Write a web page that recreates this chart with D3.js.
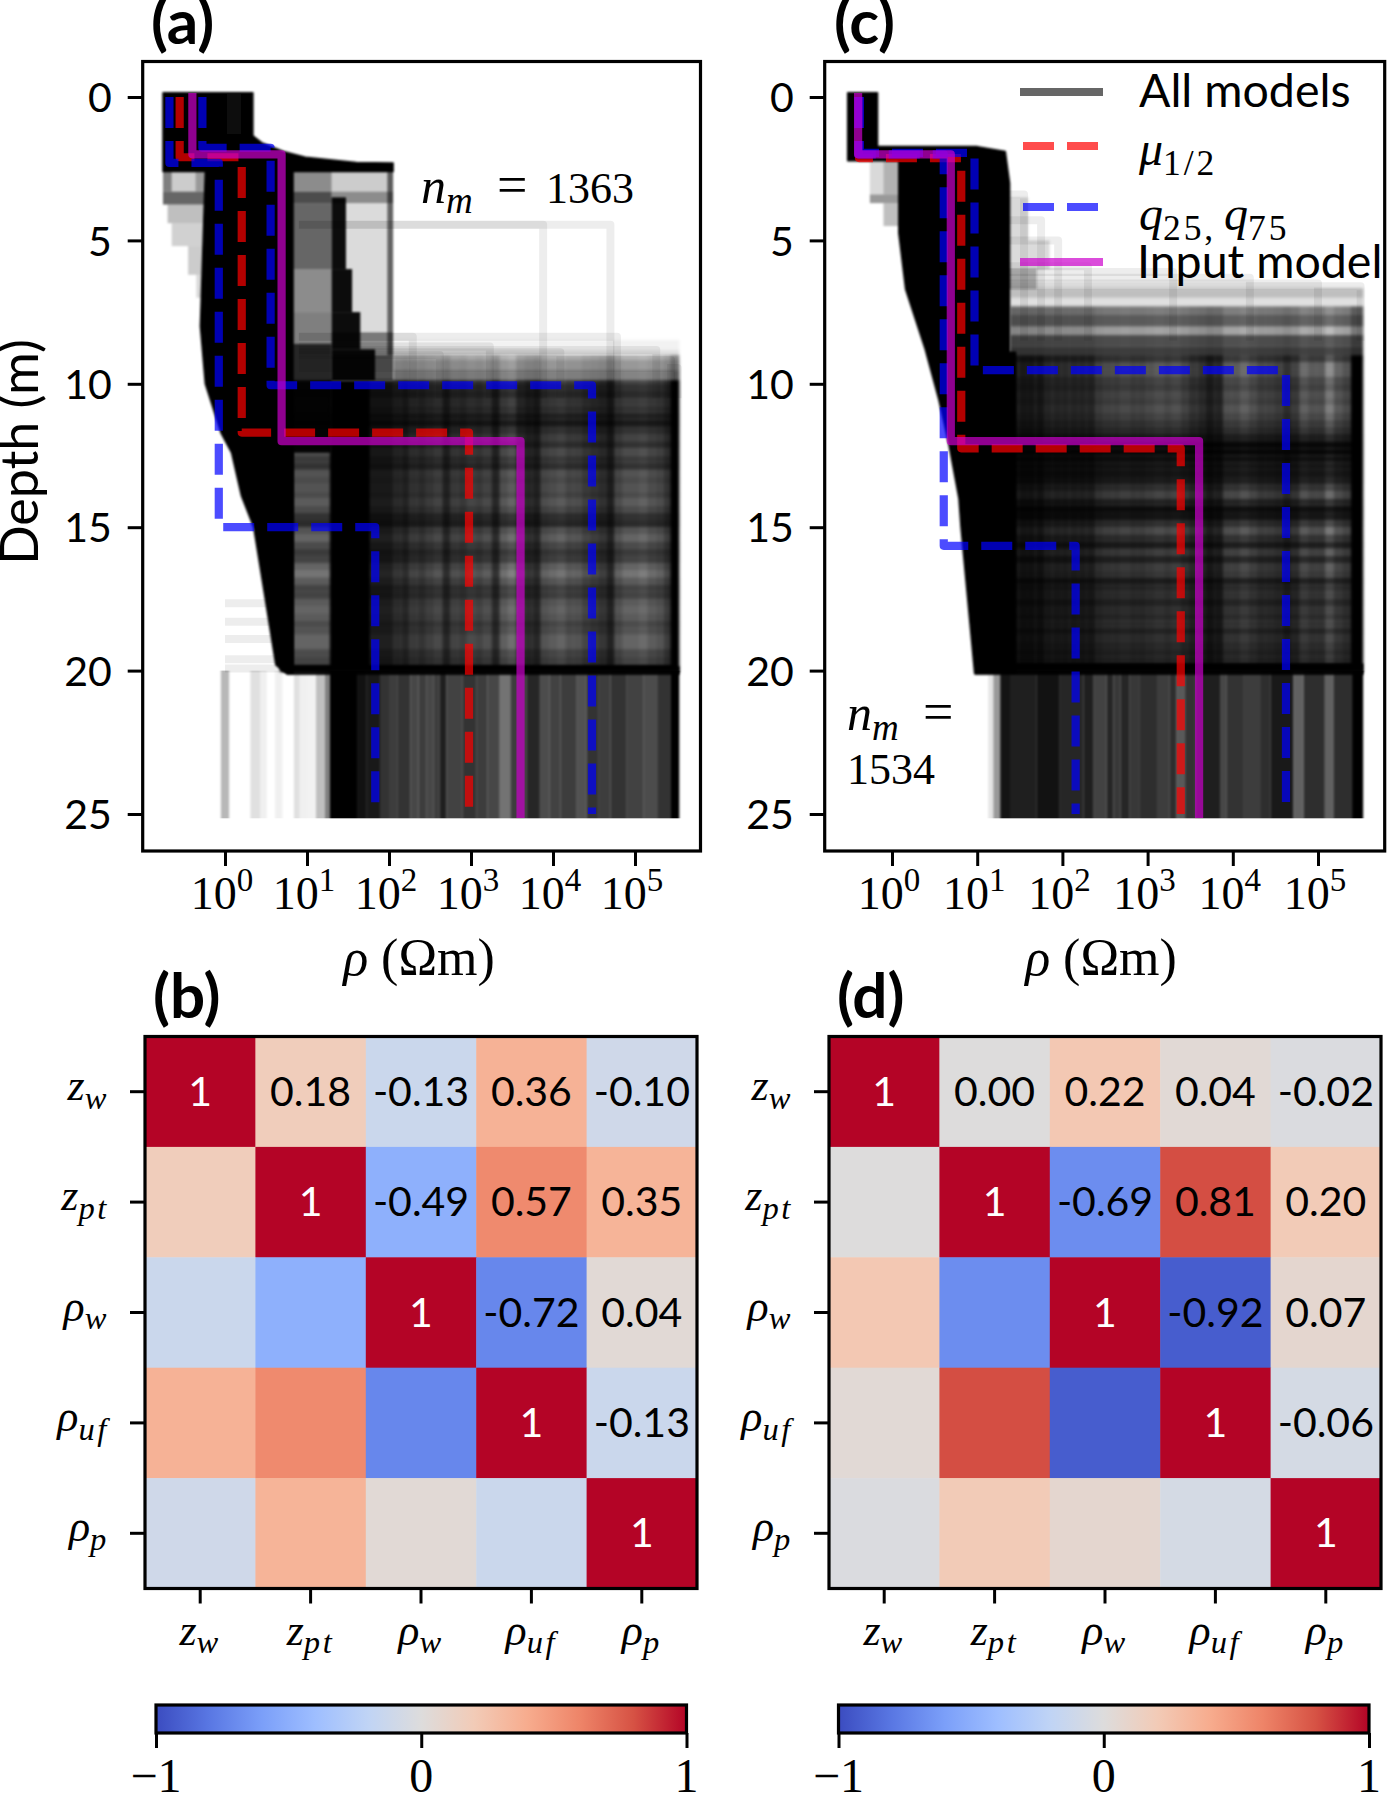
<!DOCTYPE html>
<html>
<head>
<meta charset="utf-8">
<script src="https://cdn.jsdelivr.net/npm/d3@7"></script>
<style>
  html, body { margin: 0; background: #fff; }
  svg { display: block; }
  text { fill: #000; }
  .sans { font-family: Lato, "Open Sans", sans-serif; }
  .serif { font-family: "Liberation Serif", serif; }
  .frame { fill: none; stroke: #000; stroke-width: 3.2; }
</style>
</head>
<body>
<div id="wrapper"></div>
<script>
// 1. data
const depthTicks = [0, 5, 10, 15, 20, 25]
const rhoExponents = [0, 1, 2, 3, 4, 5]
const paramNames = [["z", "w"], ["z", "pt"], ["ρ", "w"], ["ρ", "uf"], ["ρ", "p"]]

// step profiles, rho in ohm m and the depth of each step
const aMedianRho = [0.28, 1.6, 945], aMedianZ = [2.1, 11.7]
const aQ25Rho = [0.21, 0.84, 68], aQ25Z = [2.3, 15]
const aQ75Rho = [0.53, 3.6, 29900], aQ75Z = [1.77, 10.05]
const cMedianRho = [0.41, 6.5, 2450], cMedianZ = [2.13, 12.25]
const cQ25Rho = [0.4, 4.05, 143], cQ25Z = [2.0, 15.65]
const cQ75Rho = [0.42, 9.3, 42100], cQ75Z = [1.95, 9.52]
const inputRho = [0.4, 4.9, 4020], inputZ = [2, 12]

// outline of the solid black part of the ensemble, log10(rho) and depth
const aBodyLog = [-0.756, 0.34, 0.34, 0.45, 0.71, 0.98, 1.6, 2.05, 2.05, 0.83, 0.83, 0.75, 0.62, 0.48, 0.35, 0.2, 0.08, -0.05, -0.24, -0.3, -0.24, -0.756]
const aBodyZ = [-0.15, -0.15, 1.35, 1.6, 1.9, 2.1, 2.28, 2.3, 2.6, 2.6, 20.1, 20.1, 19.8, 17.3, 15, 13.9, 12.4, 11.7, 10, 8, 2.6, 2.6]
const cBodyLog = [-0.52, -0.17, -0.17, 1.0, 1.33, 1.38, 1.38, 1.45, 1.45, 0.97, 0.81, 0.786, 0.665, 0.55, 0.39, 0.16, 0.08, 0.08, -0.52]
const cBodyZ = [-0.15, -0.15, 1.73, 1.73, 1.9, 3, 8.9, 8.9, 20.1, 20.1, 15, 14, 12.07, 10.56, 8.8, 6.7, 4.75, 2.22, 2.22]

// plaid texture: column edges in log10(rho), row edges in depth, darkness of each band
const aColEdges = [0.67, 0.83, 1.28, 1.77, 2.05, 2.15, 2.25, 2.35, 2.45, 2.55, 2.65, 2.75, 2.85, 2.95, 3.05, 3.15, 3.25, 3.35, 3.45, 3.55, 3.65, 3.75, 3.85, 3.95, 4.05, 4.15, 4.25, 4.35, 4.45, 4.55, 4.65, 4.75, 4.85, 4.95, 5.05, 5.15, 5.25, 5.35, 5.43, 5.54]
const aColDark = [1, 0.35, 1, 0.8, 0.7, 0.75, 0.62, 0.66, 0.58, 0.52, 0.75, 0.56, 0.6, 0.5, 0.55, 0.48, 0.72, 0.38, 0.28, 0.6, 0.7, 0.75, 0.45, 0.4, 0.35, 0.45, 0.45, 0.55, 0.6, 0.65, 0.78, 0.45, 0.35, 0.35, 0.3, 0.4, 0.45, 0.6, 1]
const aRowEdges = [8.47, 8.82, 9.17, 9.52, 9.87, 10, 10.25, 10.5, 10.75, 11, 11.25, 11.5, 11.75, 12, 12.25, 12.5, 12.75, 13, 13.25, 13.5, 13.75, 14, 14.25, 14.5, 14.75, 15, 15.25, 15.5, 15.75, 16, 16.25, 16.5, 16.75, 17, 17.25, 17.5, 17.75, 18, 18.25, 18.5, 18.75, 19, 19.25, 19.5, 19.8, 20.05]
const aRowDark = [0.05, 0.12, 0.25, 0.4, 0.6, 0.7, 0.75, 0.65, 0.7, 0.8, 0.85, 0.7, 0.6, 0.7, 0.55, 0.65, 0.7, 0.5, 0.55, 0.5, 0.55, 0.45, 0.55, 0.7, 0.75, 0.5, 0.4, 0.55, 0.65, 0.6, 0.4, 0.3, 0.45, 0.6, 0.6, 0.45, 0.4, 0.45, 0.55, 0.5, 0.4, 0.4, 0.55, 0.6, 1]
const cColEdges = [1.385, 1.485, 1.585, 1.685, 1.785, 1.885, 1.985, 2.085, 2.185, 2.285, 2.385, 2.485, 2.585, 2.685, 2.785, 2.885, 2.985, 3.085, 3.185, 3.285, 3.385, 3.485, 3.585, 3.685, 3.785, 3.885, 3.985, 4.085, 4.185, 4.285, 4.385, 4.485, 4.585, 4.685, 4.785, 4.885, 4.985, 5.085, 5.185, 5.285, 5.385, 5.53]
const cColDark = [0.85, 0.85, 0.85, 0.85, 0.75, 0.75, 0.75, 0.75, 0.75, 0.75, 0.6, 0.55, 0.55, 0.5, 0.55, 0.55, 0.5, 0.45, 0.5, 0.45, 0.55, 0.65, 0.7, 0.8, 0.75, 0.45, 0.45, 0.35, 0.45, 0.55, 0.55, 0.6, 0.7, 0.6, 0.35, 0.45, 0.45, 0.15, 0.4, 0.5, 1]
const cRowEdges = [6.67, 7, 7.3, 7.6, 8, 8.3, 8.7, 9, 9.25, 9.5, 9.75, 10, 10.25, 10.5, 10.75, 11, 11.25, 11.5, 11.75, 12, 12.25, 12.5, 12.75, 13, 13.25, 13.5, 13.75, 14, 14.25, 14.5, 14.75, 15, 15.25, 15.5, 15.75, 16, 16.25, 16.5, 16.75, 17, 17.25, 17.5, 17.75, 18, 18.25, 18.5, 18.75, 19, 19.25, 19.5, 19.75, 20.05]
const cRowDark = [0.25, 0.12, 0.4, 0.55, 0.22, 0.62, 0.7, 0.6, 0.35, 0.35, 0.5, 0.55, 0.45, 0.5, 0.42, 0.5, 0.6, 0.68, 0.8, 0.95, 0.95, 0.9, 0.85, 0.85, 0.8, 0.65, 0.5, 0.75, 0.9, 0.85, 0.65, 0.45, 0.65, 0.8, 0.55, 0.75, 0.55, 0.6, 0.8, 0.7, 0.65, 0.75, 0.65, 0.7, 0.65, 0.75, 0.65, 0.7, 0.75, 0.75, 1]

// below 20 m only the last layer is left, so the models show as vertical stripes
const aStripeEdges = [-0.05, 0.05, 0.31, 0.43, 0.51, 0.61, 0.70, 0.84, 0.91, 1.0, 1.11, 1.22, 1.28, 1.61, 1.73, 1.89, 2.0, 2.1, 2.26, 2.36, 2.46, 2.54, 2.62, 2.70, 2.90, 3.07, 3.2, 3.35, 3.48, 3.68, 3.84, 3.96, 4.09, 4.29, 4.41, 4.55, 4.70, 4.9, 5.10, 5.27, 5.43, 5.54]
const aStripeDark = [0.28, 0, 0.12, 0.06, 0, 0.06, 0, 0.12, 0.06, 0.05, 0.25, 0.5, 1, 0.93, 0.9, 0.8, 0.76, 0.8, 0.72, 0.76, 0.72, 0.76, 0.88, 0.74, 0.8, 0.76, 0.72, 0.55, 0.76, 0.85, 0.7, 0.74, 0.76, 0.68, 0.8, 0.76, 0.8, 0.74, 0.7, 0.8, 1]
const cStripeEdges = [1.13, 1.19, 1.27, 1.385, 1.70, 1.97, 2.245, 2.36, 2.52, 2.60, 2.68, 2.79, 2.91, 3.11, 3.26, 3.34, 3.44, 3.56, 3.85, 3.93, 4.12, 4.32, 4.44, 4.71, 4.83, 5.08, 5.18, 5.40, 5.53]
const cStripeDark = [0.1, 0.4, 0.92, 0.88, 0.93, 0.85, 0.88, 0.74, 0.85, 0.78, 0.85, 0.78, 0.82, 0.76, 0.82, 0.65, 0.8, 0.88, 0.72, 0.8, 0.76, 0.82, 0.9, 0.62, 0.82, 0.62, 0.82, 1]

// grey patches next to the black body: log0, log1, z0, z1, darkness (negative lightens)
const aPatches = [
  [0.02, 0.2, -0.1, 1.3, -0.06],
  [-0.756, -0.65, 2.6, 3.3, 0.5], [-0.65, -0.36, 2.6, 3.3, 0.2], [-0.36, -0.24, 2.6, 3.3, 0.4],
  [-0.756, -0.24, 3.3, 3.75, 0.6], [-0.7, -0.24, 3.75, 4.4, 0.25], [-0.65, -0.24, 4.4, 5.2, 0.18],
  [-0.45, -0.24, 5.2, 6.2, 0.2], [-0.35, -0.24, 6.2, 7, 0.15],
  [0.83, 1.3, 2.6, 3.3, 0.45], [0.83, 1.3, 3.3, 3.7, 0.7], [0.83, 1.3, 3.7, 6, 0.6],
  [0.83, 1.3, 6, 7.5, 0.45], [0.83, 1.3, 7.5, 8.6, 0.5], [0.83, 1.3, 8.6, 9.9, 0.85], [0.83, 1.3, 9.9, 12.4, 0.95],
  [1.3, 2.05, 2.6, 3.3, 0.2], [1.3, 2.05, 3.3, 3.7, 0.45], [1.3, 2.05, 3.7, 8.2, 0.14],
  [1.3, 2.05, 8.2, 9, 0.45], [1.3, 2.05, 9, 9.9, 0.7], [1.98, 2.05, 2.6, 9, 0.55],
  [1.3, 1.475, 3.5, 6, 0.95], [1.3, 1.55, 6, 7.5, 0.95], [1.3, 1.65, 7.5, 8.8, 0.95], [1.3, 1.83, 8.8, 9.9, 0.95],
  [0.75, 5.54, 19.85, 20.15, 0.92]
]
const cPatches = [
  [-0.26, -0.1, 2.22, 3.4, 0.15], [-0.1, 0.08, 2.22, 3.4, 0.3], [-0.26, 0.08, 3.4, 3.7, 0.4],
  [-0.1, 0.08, 3.7, 4.5, 0.25], [1.38, 1.6, 3.5, 5, 0.15], [1.38, 1.85, 5, 6, 0.14],
  [1.38, 1.7, 6, 6.7, 0.3], [0.97, 5.53, 19.75, 20.15, 0.92]
]

// faint single models: depth of the step and the rho they jump to (log10), depth where they vanish
const aOutlierZ = [4.45, 4.45, 8.36, 8.36, 8.7, 8.82, 8.9, 9.0, 9.17, 9.45]
const aOutlierLog = [3.88, 4.7, 2.29, 4.78, 3.23, 5.26, 4.09, 2.62, 5.44, 5.52]
const aLowZ = [17.65, 18.3, 18.9, 19.6, 19.93]
const cOutlierZ = [3.4, 4.3, 5.0, 5.9, 6.1, 6.3, 6.5, 6.6]
const cOutlierLog = [1.55, 1.75, 1.95, 2.3, 3.3, 4.2, 5.0, 5.5]

const corrB = [
  [1, 0.18, -0.13, 0.36, -0.10],
  [0.18, 1, -0.49, 0.57, 0.35],
  [-0.13, -0.49, 1, -0.72, 0.04],
  [0.36, 0.57, -0.72, 1, -0.13],
  [-0.10, 0.35, 0.04, -0.13, 1]
]
const corrD = [
  [1, 0.00, 0.22, 0.04, -0.02],
  [0.00, 1, -0.69, 0.81, 0.20],
  [0.22, -0.69, 1, -0.92, 0.07],
  [0.04, 0.81, -0.92, 1, -0.06],
  [-0.02, 0.20, 0.07, -0.06, 1]
]
const coolwarm = ["#3b4cc0", "#5977e3", "#7b9ff9", "#9ebeff", "#c0d4f5", "#dddcdc", "#f2cbb7", "#f7ac8e", "#ee8468", "#d65244", "#b40426"]

// 2. canvas
const width = 1387, height = 1794
const svg = d3.select("#wrapper").append("svg")
  .attr("width", width).attr("height", height)
const defs = svg.append("defs")
const blur = (id, sx, sy) => defs.append("filter").attr("id", id)
  .attr("x", "-5%").attr("y", "-5%").attr("width", "110%").attr("height", "110%")
  .append("feGaussianBlur").attr("stdDeviation", `${sx} ${sy}`)
blur("soft", 1.5, 1.5)
blur("softx", 1.0, 0)
blur("edge", 1.0, 1.0)

const colorT = d3.scaleLinear().domain(d3.range(11).map(i => -1 + i * 0.2)).range(coolwarm)
  .interpolate(d3.interpolateRgb)

function stepPoints(rhos, zs) {
  const pts = [[rhos[0], 0]]
  zs.forEach((z, i) => { pts.push([rhos[i], z]); pts.push([rhos[i + 1], z]) })
  pts.push([rhos[rhos.length - 1], 25])
  return pts
}

function mathText(parent, x, y, base, sub, size, anchor, upright) {
  const t = parent.append("text").attr("class", "serif")
    .attr("x", x).attr("y", y).attr("text-anchor", anchor)
    .attr("font-size", size)
  t.append("tspan").attr("font-style", "italic").text(base)
  t.append("tspan").attr("font-style", upright ? "normal" : "italic").attr("font-size", size * 0.74)
    .attr("letter-spacing", size * 0.06)
    .attr("dy", size * 0.2).text(sub)
  return t
}

// 3. ensemble panels
function drawProfile(p) {
  const x = d3.scaleLog().domain([1, 1e5]).range(p.rhoRange)
  const y = d3.scaleLinear().domain([0, 25]).range([97, 814])
  const xl = v => x(Math.pow(10, v))
  const g = svg.append("g")

  const rect = (sel, l0, l1, z0, z1, dark) => sel.append("rect")
    .attr("x", xl(l0)).attr("width", xl(l1) - xl(l0))
    .attr("y", y(z0)).attr("height", y(z1) - y(z0))
    .attr("fill", dark < 0 ? "#fff" : "#000")
    .attr("fill-opacity", Math.abs(dark))

  // faint single models first
  const faint = g.append("g").attr("fill", "none").attr("stroke", "#000")
    .attr("stroke-opacity", 0.07).attr("stroke-width", 8).attr("stroke-linejoin", "round")
  p.outlierZ.forEach((z, i) => {
    faint.append("path").attr("d", d3.line()([
      [xl(p.outlierFrom), y(z)], [xl(p.outlierLog[i]), y(z)], [xl(p.outlierLog[i]), y(p.outlierEnd)]
    ]))
  })
  p.lowZ.forEach(z => {
    faint.append("path").attr("d", d3.line()([[xl(0), y(z)], [xl(0.8), y(z)]]))
  })

  // plaid = row bands multiplied with column bands
  const plaid = g.append("g").attr("filter", "url(#soft)")
  const rowTo = p.colEdges[p.colEdges.length - 1]
  p.rowDark.forEach((d, i) => {
    const from = p.rowEdges[i] >= p.colTop ? p.colEdges[0] : p.rowFrom
    rect(plaid, from, rowTo, p.rowEdges[i], p.rowEdges[i + 1], d)
  })
  p.colDark.forEach((d, i) => {
    rect(plaid, p.colEdges[i], p.colEdges[i + 1], p.colTop, 20.05, d)
    // the columns fade out towards the top of the plaid
    if (p.colEdges[i] >= p.rowFrom) rect(plaid, p.colEdges[i], p.colEdges[i + 1], p.fadeTop, p.colTop, d * 0.4)
  })

  // stripes under 20 m
  const stripes = g.append("g").attr("filter", "url(#softx)")
  p.stripeDark.forEach((d, i) => rect(stripes, p.stripeEdges[i], p.stripeEdges[i + 1], 20.0, 25.15, d))

  const patches = g.append("g").attr("filter", "url(#edge)")
  patches.append("path")
    .attr("d", d3.line()(p.bodyLog.map((l, i) => [xl(l), y(p.bodyZ[i])])) + "Z")
    .attr("fill", "#000").attr("stroke", "#000").attr("stroke-width", 1.5).attr("stroke-linejoin", "round")
  p.patches.forEach(d => rect(patches, d[0], d[1], d[2], d[3], d[4]))

  // summary lines
  const profileLine = d3.line().x(d => x(d[0])).y(d => y(d[1]))
  const line = (rhos, zs, color, dashed) => g.append("path")
    .attr("d", profileLine(stepPoints(rhos, zs)))
    .attr("fill", "none").attr("stroke", color).attr("stroke-opacity", 0.7)
    .attr("stroke-width", 8.2).attr("stroke-linejoin", "round")
    .attr("stroke-linecap", dashed ? "butt" : "square")
    .attr("stroke-dasharray", dashed ? "31 13" : null)
  line(p.medRho, p.medZ, "#f00", true)
  line(p.q25Rho, p.q25Z, "#00f", true)
  line(p.q75Rho, p.q75Z, "#00f", true)
  line(inputRho, inputZ, "#cc00cc", false)

  // axes
  const axes = g.append("g")
  axes.append("rect").attr("class", "frame")
    .attr("x", p.left).attr("y", 61.5)
    .attr("width", p.right - p.left).attr("height", 851 - 61.5)
  const yAxis = axes.append("g").attr("transform", `translate(${p.left},0)`)
    .call(d3.axisLeft(y).tickValues(depthTicks).tickSize(15).tickPadding(16))
  yAxis.select(".domain").remove()
  yAxis.selectAll("line").attr("stroke-width", 3)
  yAxis.selectAll("text").attr("class", "sans").attr("font-size", 41).attr("dy", "0.36em").style("fill", "#000")
  const xAxis = axes.append("g").attr("transform", "translate(0,851)")
    .call(d3.axisBottom(d3.scaleLinear().domain([0, 5]).range(p.rhoRange))
      .tickValues(rhoExponents).tickSize(15).tickFormat(""))
  xAxis.select(".domain").remove()
  xAxis.selectAll("line").attr("stroke-width", 3)
  rhoExponents.forEach(e => {
    const t = axes.append("text").attr("class", "serif").attr("font-size", 46)
      .attr("x", xl(e) - 3).attr("y", 909).attr("text-anchor", "middle")
    t.append("tspan").text("10")
    t.append("tspan").attr("font-size", 33).attr("dy", -18).text(e)
  })
  const lab = axes.append("text").attr("x", p.xLabel).attr("y", 975)
    .attr("text-anchor", "middle").attr("font-size", 52)
  lab.append("tspan").attr("class", "serif").attr("font-style", "italic").text("ρ ")
  lab.append("tspan").attr("class", "serif").text("(Ωm)")

  axes.append("text").attr("class", "sans").attr("x", p.titleX).attr("y", 44)
    .attr("font-size", 62).attr("font-weight", 700).text(p.title)
}

drawProfile({
  title: "(a)", titleX: 151, xLabel: 419, left: 142.7, right: 700.5, rhoRange: [225, 635],
  medRho: aMedianRho, medZ: aMedianZ, q25Rho: aQ25Rho, q25Z: aQ25Z, q75Rho: aQ75Rho, q75Z: aQ75Z,
  bodyLog: aBodyLog, bodyZ: aBodyZ, colEdges: aColEdges, colDark: aColDark, rowEdges: aRowEdges, rowDark: aRowDark,
  rowFrom: 2.05, colTop: 9.87, fadeTop: 9.0, stripeEdges: aStripeEdges, stripeDark: aStripeDark, patches: aPatches,
  outlierZ: aOutlierZ, outlierLog: aOutlierLog, outlierFrom: 0.9, outlierEnd: 10.5, lowZ: aLowZ
})
drawProfile({
  title: "(c)", titleX: 834, xLabel: 1101, left: 824.7, right: 1384.7, rhoRange: [892, 1318],
  medRho: cMedianRho, medZ: cMedianZ, q25Rho: cQ25Rho, q25Z: cQ25Z, q75Rho: cQ75Rho, q75Z: cQ75Z,
  bodyLog: cBodyLog, bodyZ: cBodyZ, colEdges: cColEdges, colDark: cColDark, rowEdges: cRowEdges, rowDark: cRowDark,
  rowFrom: 1.385, colTop: 9.0, fadeTop: 7.3, stripeEdges: cStripeEdges, stripeDark: cStripeDark, patches: cPatches,
  outlierZ: cOutlierZ, outlierLog: cOutlierLog, outlierFrom: 1.3, outlierEnd: 8.5, lowZ: []
})

svg.append("text").attr("class", "sans").attr("font-size", 52)
  .attr("transform", "translate(38,452) rotate(-90)").attr("text-anchor", "middle").text("Depth (m)")

// n_m labels
const serifAt = (parent, xx, yy, size, txt) => parent.append("text").attr("class", "serif")
  .attr("font-size", size).attr("x", xx).attr("y", yy).text(txt)
mathText(svg, 421, 203, "n", "m", 50, "start")
serifAt(svg, 497, 203, 54, "=")
serifAt(svg, 546, 203, 44, "1363")
mathText(svg, 847, 730, "n", "m", 50, "start")
serifAt(svg, 923, 730, 54, "=")
serifAt(svg, 847, 784, 44, "1534")

// legend in panel c
const legend = svg.append("g")
const legendLine = (yy, color, dashed, op) => legend.append("line")
  .attr("x1", 1020).attr("x2", 1103).attr("y1", yy).attr("y2", yy)
  .attr("stroke", color).attr("stroke-opacity", op).attr("stroke-width", 8.2)
  .attr("stroke-dasharray", dashed ? "31 13" : null)
legendLine(92, "#000", false, 0.6)
legendLine(146, "#f00", true, 0.7).attr("x1", 1023)
legendLine(207, "#00f", true, 0.7).attr("x1", 1023)
legendLine(262, "#cc00cc", false, 0.7)
legend.append("text").attr("class", "sans").attr("font-size", 46.5).attr("x", 1139).attr("y", 107).text("All models")
mathText(legend, 1139, 165, "μ", "1/2", 48, "start", true)
mathText(legend, 1139, 230, "q", "25,", 48, "start", true)
mathText(legend, 1224, 230, "q", "75", 48, "start", true)
legend.append("text").attr("class", "sans").attr("font-size", 46.5).attr("x", 1137).attr("y", 278).text("Input model")

// 4. correlation panels
function drawHeatmap(p) {
  const size = 552, top = 1036.5
  const keys = d3.range(paramNames.length)
  const x = d3.scaleBand().domain(keys).range([p.left, p.left + size])
  const y = d3.scaleBand().domain(keys).range([top, top + size])
  const g = svg.append("g")

  p.corr.forEach((row, i) => row.forEach((v, j) => {
    g.append("rect").attr("x", x(j)).attr("y", y(i))
      .attr("width", x.bandwidth() + 0.5).attr("height", y.bandwidth() + 0.5)
      .attr("fill", colorT(v))
    if (j >= i) {
      g.append("text").attr("class", "sans").attr("font-size", 41)
        .attr("x", x(j) + x.bandwidth() / 2).attr("y", y(i) + y.bandwidth() / 2 + 14)
        .attr("text-anchor", "middle").style("fill", i === j ? "#fff" : "#000")
        .text(i === j ? "1" : v.toFixed(2))
    }
  }))
  g.append("rect").attr("class", "frame").attr("x", p.left).attr("y", top)
    .attr("width", size).attr("height", size)

  const yAxis = g.append("g").attr("transform", `translate(${p.left},0)`)
    .call(d3.axisLeft(y).tickSize(15).tickFormat(""))
  const xAxis = g.append("g").attr("transform", `translate(0,${top + size})`)
    .call(d3.axisBottom(x).tickSize(15).tickFormat(""))
  yAxis.select(".domain").remove(); xAxis.select(".domain").remove()
  yAxis.selectAll("line").attr("stroke-width", 3)
  xAxis.selectAll("line").attr("stroke-width", 3)

  paramNames.forEach((n, i) => {
    mathText(g, p.left - 36, y(i) + y.bandwidth() / 2 + 8, n[0], n[1], 44, "end")
    mathText(g, x(i) + x.bandwidth() / 2, top + size + 56, n[0], n[1], 44, "middle")
  })

  g.append("text").attr("class", "sans").attr("x", p.titleX).attr("y", 1018)
    .attr("font-size", 62).attr("font-weight", 700).text(p.title)

  // colour bar
  const cb = d3.scaleLinear().domain([-1, 1]).range([p.barLeft, p.barLeft + 530.5])
  const gradId = "grad" + p.title[1]
  const grad = defs.append("linearGradient").attr("id", gradId)
  coolwarm.forEach((c, i) => grad.append("stop").attr("offset", i * 10 + "%").attr("stop-color", c))
  g.append("rect").attr("x", cb(-1)).attr("y", 1705).attr("width", 530.5).attr("height", 28)
    .attr("fill", `url(#${gradId})`).attr("stroke", "#000").attr("stroke-width", 3.2)
  const cbAxis = g.append("g").attr("transform", "translate(0,1733)")
    .call(d3.axisBottom(cb).tickValues([-1, 0, 1]).tickSize(15).tickFormat(""))
  cbAxis.select(".domain").remove()
  cbAxis.selectAll("line").attr("stroke-width", 3)
  ;[-1, 0, 1].forEach(v => g.append("text").attr("class", "serif").attr("font-size", 48)
    .attr("x", cb(v)).attr("y", 1792).attr("text-anchor", "middle")
    .text(v < 0 ? "−1" : v))
}

drawHeatmap({ title: "(b)", titleX: 153, left: 145, barLeft: 156, corr: corrB })
drawHeatmap({ title: "(d)", titleX: 837, left: 829, barLeft: 838.5, corr: corrD })
</script>
</body>
</html>
